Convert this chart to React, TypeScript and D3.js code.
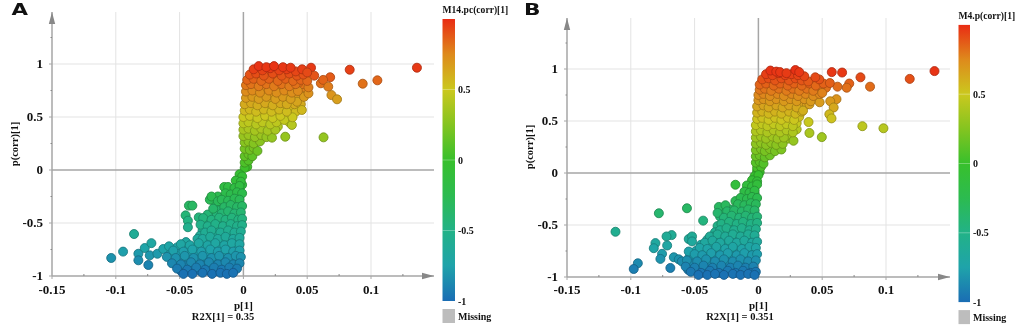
import React from "react";
import * as d3 from "d3";

// ticks shared by both panels
const xTicks = [-0.15, -0.1, -0.05, 0, 0.05, 0.1];
const xMinor = [-0.125, -0.075, -0.025, 0.025, 0.075, 0.125];
const yTicks = [-1, -0.5, 0, 0.5, 1];
const yMinor = [-0.75, -0.25, 0.25, 0.75, 1.25];
const barTicks = [-1, -0.5, 0, 0.5];
const barStops = [-1, -0.75, -0.5, -0.25, 0, 0.25, 0.5, 0.75, 1];
const barColors = ["#1a6db4", "#1fa3aa", "#22b287", "#2cbb50", "#38c02c", "#84c420", "#cbc81e", "#de8a1c", "#e92c14"];

// p[1], p(corr)[1]
const pointsA: number[][] = [
  [.136,.965],[.105,.846],[.0935,.814],[.0833,.946],[.053,.965],[.0555,.89],[.068,.875],[.0607,.818],[.0625,.85],[.0665,.786],[.069,.707],[.0734,.667],[.0628,.308],
  [.003,.03],[.001,.02],[.001,.07],[.004,.09],[.001,.13],[.004,.15],[.007,.13],[.001,.2],[.005,.19],[.008,.21],[.011,.18],[.001,.26],[.004,.27],[.008,.25],[.013,.27],
  [.0,.32],[.004,.33],[.009,.31],[.014,.33],[.018,.31],[.0224,.305],[.0,.38],[.004,.39],[.009,.37],[.014,.39],[.019,.37],[.025,.38],[.0328,.314],
  [.0,.44],[.004,.45],[.01,.43],[.015,.45],[.021,.43],[.026,.45],[.032,.472],[.038,.425],[.0,.5],[.005,.51],[.011,.49],[.017,.51],[.023,.49],[.029,.51],[.0385,.497],
  [.001,.56],[.005,.57],[.01,.55],[.016,.57],[.022,.55],[.028,.57],[.034,.55],[.0458,.566],[.001,.62],[.006,.63],[.011,.61],[.017,.63],[.023,.61],[.029,.63],[.034,.62],[.042,.644],
  [.002,.68],[.007,.69],[.012,.67],[.018,.69],[.025,.67],[.031,.69],[.037,.67],[.0475,.69],[.002,.74],[.007,.75],[.013,.73],[.02,.75],[.026,.73],[.032,.75],[.038,.73],[.0427,.745],[.051,.723],
  [.002,.8],[.006,.81],[.012,.79],[.018,.81],[.024,.79],[.03,.81],[.036,.79],[.041,.81],[.051,.78],[.003,.85],[.008,.86],[.014,.84],[.02,.86],[.027,.84],[.033,.86],[.039,.84],[.045,.85],[.05,.84],
  [.005,.9],[.01,.91],[.016,.89],[.023,.91],[.03,.89],[.036,.91],[.042,.89],[.047,.9],[.008,.95],[.015,.94],[.021,.96],[.028,.94],[.034,.95],[.041,.93],[.046,.95],[.05,.92],
  [.012,.98],[.018,.97],[.024,.98],[.031,.97],[.037,.965],
  [-.1036,-.83],[-.0943,-.77],[-.0857,-.604],[-.0823,-.79],[-.0823,-.852],[-.0773,-.736],[-.0721,-.69],[-.0745,-.896],[-.0734,-.805],[-.0674,-.79],[-.0628,-.745],[-.0583,-.72],
  [-.0427,-.336],[-.04,-.336],[-.0453,-.428],[-.0435,-.478],[-.0435,-.54],[-.035,-.447],[-.0315,-.453],[-.0336,-.516],[-.0263,-.28],[-.025,-.25],[-.015,-.16],[-.02,-.295],[-.0237,-.365],
  [-.003,-.04],[-.001,-.06],[-.006,-.1],[-.002,-.11],[-.012,-.16],[-.007,-.17],[-.003,-.15],[-.014,-.22],[-.01,-.23],[-.005,-.21],[-.001,-.22],[-.017,-.28],[-.012,-.29],[-.007,-.27],[-.003,-.28],
  [-.015,-.35],[-.01,-.33],[-.005,-.35],[-.001,-.34],[-.017,-.41],[-.012,-.39],[-.007,-.41],[-.002,-.4],[-.025,-.47],[-.019,-.45],[-.014,-.47],[-.009,-.45],[-.004,-.47],[-.001,-.46],
  [-.028,-.53],[-.022,-.51],[-.016,-.53],[-.01,-.51],[-.005,-.53],[-.001,-.52],[-.03,-.59],[-.025,-.57],[-.018,-.59],[-.012,-.57],[-.007,-.59],[-.002,-.58],[-.032,-.65],[-.026,-.63],[-.02,-.65],[-.014,-.63],[-.008,-.65],[-.003,-.64],
  [-.049,-.7],[-.042,-.71],[-.035,-.69],[-.028,-.71],[-.022,-.69],[-.015,-.71],[-.009,-.69],[-.003,-.7],[-.055,-.76],[-.047,-.77],[-.04,-.75],[-.033,-.77],[-.026,-.75],[-.02,-.77],[-.014,-.75],[-.008,-.77],[-.003,-.76],
  [-.06,-.82],[-.053,-.83],[-.046,-.81],[-.039,-.83],[-.032,-.81],[-.025,-.83],[-.019,-.81],[-.012,-.83],[-.006,-.81],[-.002,-.82],[-.056,-.88],[-.049,-.89],[-.041,-.87],[-.034,-.89],[-.027,-.87],[-.02,-.89],[-.014,-.87],[-.008,-.89],[-.003,-.88],
  [-.052,-.93],[-.044,-.94],[-.037,-.92],[-.03,-.94],[-.023,-.92],[-.017,-.94],[-.011,-.92],[-.005,-.93],[-.047,-.98],[-.04,-.98],[-.032,-.97],[-.0245,-.98],[-.018,-.97],[-.013,-.98],[-.008,-.97],
];

// smaller points packed between the visible ones in panel A
const packedA: number[][] = [
  [.003,.11],[.003,.23],[.006,.3],[.011,.3],[.016,.36],[.021,.36],[.027,.41],[.003,.42],[.007,.47],[.013,.47],[.019,.47],[.025,.47],[.03,.53],[.036,.45],
  [.003,.53],[.008,.53],[.014,.53],[.02,.53],[.026,.53],[.033,.51],[.004,.6],[.009,.59],[.014,.59],[.02,.59],[.026,.6],[.032,.59],[.038,.58],[.041,.55],
  [.004,.66],[.01,.65],[.015,.65],[.021,.65],[.027,.65],[.034,.66],[.04,.62],[.045,.62],[.005,.72],[.01,.71],[.016,.71],[.022,.71],[.029,.71],[.035,.71],[.041,.7],[.047,.73],
  [.004,.78],[.01,.77],[.015,.77],[.021,.77],[.028,.77],[.034,.77],[.041,.77],[.047,.78],[.046,.81],[.006,.83],[.011,.83],[.017,.83],[.023,.83],[.03,.83],[.036,.83],[.043,.82],[.048,.87],
  [.007,.88],[.013,.87],[.019,.88],[.026,.87],[.033,.88],[.039,.87],[.045,.88],[.012,.93],[.018,.92],[.025,.92],[.031,.92],[.038,.92],[.044,.92],
  [-.001,-.14],[-.009,-.19],[-.005,-.27],[-.01,-.27],[-.015,-.26],[-.02,-.25],[-.022,-.32],[-.017,-.33],[-.008,-.37],[-.013,-.36],[-.019,-.38],[-.024,-.41],[-.021,-.43],[-.028,-.42],
  [-.006,-.44],[-.011,-.43],[-.016,-.43],[-.003,-.5],[-.008,-.49],[-.013,-.49],[-.019,-.49],[-.025,-.51],[-.031,-.5],[-.004,-.56],[-.009,-.55],[-.015,-.55],[-.02,-.55],[-.027,-.55],[-.032,-.57],
  [-.005,-.62],[-.011,-.61],[-.016,-.61],[-.022,-.61],[-.028,-.61],[-.034,-.62],[-.006,-.67],[-.012,-.67],[-.018,-.67],[-.024,-.67],[-.03,-.66],[-.036,-.65],[-.045,-.68],
  [-.006,-.73],[-.012,-.73],[-.018,-.73],[-.024,-.73],[-.031,-.73],[-.038,-.73],[-.045,-.73],[-.052,-.73],[-.005,-.79],[-.011,-.79],[-.017,-.79],[-.023,-.79],[-.03,-.79],[-.036,-.79],[-.043,-.79],[-.05,-.79],[-.058,-.78],
  [-.004,-.85],[-.01,-.85],[-.016,-.85],[-.022,-.85],[-.029,-.85],[-.036,-.85],[-.043,-.85],[-.051,-.85],[-.006,-.9],[-.012,-.9],[-.018,-.9],[-.024,-.9],[-.031,-.9],[-.039,-.9],[-.046,-.9],[-.01,-.95],[-.015,-.95],[-.021,-.95],[-.027,-.95],[-.034,-.95],[-.041,-.95],[-.049,-.95],
];

// p[1], p(corr)[1]
const pointsB: number[][] = [
  [.138,.98],[.1186,.905],[.098,.43],[.0815,.45],[.0875,.83],[.08,.92],[.0656,.966],[.0575,.97],[.0712,.86],[.0692,.82],[.062,.83],[.0612,.71],[.0563,.69],[.059,.63],[.0556,.565],[.0573,.525],[.0393,.49],[.04,.385],[.0497,.345],[.0275,.31],
  [-.001,.02],[.001,.01],[-.001,.05],[.002,.06],[-.002,.1],[.001,.11],[.004,.09],[-.002,.16],[.001,.17],[.005,.15],[.009,.17],[-.002,.22],[.002,.23],[.005,.21],[.009,.23],[.013,.21],[.018,.226],
  [-.002,.28],[.002,.29],[.006,.27],[.01,.29],[.014,.27],[.019,.28],[-.002,.34],[.002,.35],[.006,.33],[.011,.35],[.015,.33],[.02,.34],[-.002,.4],[.002,.41],[.007,.39],[.012,.41],[.017,.39],[.022,.41],[.027,.39],
  [-.002,.46],[.003,.47],[.007,.45],[.012,.47],[.017,.45],[.022,.47],[.027,.45],[-.001,.52],[.003,.53],[.008,.51],[.013,.53],[.018,.51],[.023,.53],[.028,.51],
  [-.001,.58],[.003,.59],[.008,.57],[.013,.59],[.018,.57],[.024,.59],[.029,.57],[.034,.59],[-.001,.64],[.004,.65],[.008,.63],[.014,.65],[.019,.63],[.024,.65],[.03,.63],[.035,.6],[.04,.66],
  [0,.7],[.004,.71],[.009,.69],[.014,.71],[.02,.69],[.025,.71],[.03,.69],[.036,.71],[.041,.69],[.048,.68],[0,.75],[.004,.76],[.009,.74],[.015,.76],[.02,.74],[.026,.76],[.031,.74],[.037,.76],[.043,.74],[.048,.76],
  [.001,.8],[.005,.81],[.01,.79],[.016,.81],[.022,.79],[.027,.81],[.032,.79],[.038,.81],[.043,.79],[.05,.77],[.001,.85],[.006,.86],[.012,.84],[.017,.86],[.023,.84],[.028,.86],[.034,.84],[.04,.86],[.045,.84],[.051,.86],[.056,.865],
  [.003,.9],[.008,.91],[.013,.89],[.018,.91],[.024,.89],[.029,.91],[.034,.89],[.039,.88],[.0477,.9],[.0446,.92],[.006,.95],[.011,.94],[.016,.96],[.021,.94],[.026,.95],[.031,.94],[.036,.93],
  [.0094,.985],[.014,.975],[.017,.97],[.022,.96],[.029,.99],[.032,.97],
  [-.112,-.565],[-.078,-.387],[-.056,-.339],[-.0433,-.458],[-.018,-.113],[-.068,-.597],[-.072,-.61],[-.0807,-.674],[-.082,-.723],[-.0715,-.697],[-.0755,-.777],[-.0768,-.826],[-.0945,-.868],[-.0977,-.923],[-.069,-.913],[-.0663,-.81],[-.0546,-.635],[-.052,-.61],[-.0546,-.755],[-.0624,-.83],[-.06,-.85],[-.052,-.658],
  [-.031,-.326],[-.0258,-.31],[-.032,-.384],[-.0245,-.368],[-.018,-.27],
  [-.003,-.03],[0,-.02],[-.005,-.07],[-.001,-.08],[-.009,-.12],[-.005,-.13],[-.001,-.11],[-.011,-.18],[-.007,-.19],[-.003,-.17],[-.014,-.24],[-.009,-.25],[-.005,-.23],[-.001,-.24],
  [-.016,-.3],[-.011,-.31],[-.006,-.29],[-.002,-.3],[-.019,-.36],[-.013,-.37],[-.008,-.35],[-.003,-.36],[-.027,-.43],[-.021,-.41],[-.015,-.43],[-.01,-.41],[-.005,-.43],[-.001,-.42],
  [-.029,-.49],[-.023,-.47],[-.017,-.49],[-.012,-.47],[-.006,-.49],[-.001,-.48],[-.03,-.55],[-.025,-.53],[-.019,-.55],[-.013,-.53],[-.007,-.55],[-.002,-.54],
  [-.038,-.61],[-.032,-.59],[-.026,-.61],[-.02,-.59],[-.014,-.61],[-.008,-.59],[-.003,-.6],[-.042,-.67],[-.036,-.65],[-.03,-.67],[-.023,-.65],[-.017,-.67],[-.011,-.65],[-.005,-.67],[-.001,-.66],
  [-.046,-.72],[-.04,-.73],[-.033,-.71],[-.026,-.73],[-.02,-.71],[-.013,-.73],[-.007,-.71],[-.002,-.72],[-.05,-.78],[-.044,-.79],[-.037,-.77],[-.03,-.79],[-.024,-.77],[-.017,-.79],[-.011,-.77],[-.005,-.79],[-.001,-.78],
  [-.056,-.84],[-.048,-.85],[-.041,-.83],[-.034,-.85],[-.027,-.83],[-.02,-.85],[-.014,-.83],[-.008,-.85],[-.002,-.84],[-.057,-.9],[-.05,-.91],[-.043,-.89],[-.036,-.91],[-.029,-.89],[-.022,-.91],[-.016,-.89],[-.01,-.91],[-.004,-.9],
  [-.053,-.95],[-.045,-.96],[-.038,-.94],[-.031,-.96],[-.024,-.94],[-.018,-.96],[-.012,-.94],[-.006,-.96],[-.002,-.95],[-.047,-.98],[-.04,-.98],[-.034,-.97],[-.027,-.98],[-.02,-.97],[-.014,-.98],[-.008,-.97],[-.003,-.98],
];

// smaller points packed between the visible ones in panel B
const packedB: number[][] = [
  [.003,.13],[.007,.2],[.004,.26],[.008,.26],[.012,.25],[.016,.25],[.004,.32],[.008,.32],[.013,.31],[.018,.31],[.023,.33],[.005,.38],[.01,.37],[.015,.37],[.02,.37],[.025,.36],
  [.005,.43],[.01,.43],[.015,.43],[.02,.43],[.025,.43],[.03,.42],[.005,.49],[.01,.49],[.015,.49],[.02,.49],[.025,.49],[.03,.48],[.006,.55],[.011,.55],[.016,.55],[.021,.55],[.026,.55],[.032,.54],
  [.006,.61],[.011,.61],[.016,.61],[.022,.61],[.027,.61],[.033,.62],[.006,.67],[.011,.67],[.017,.67],[.022,.67],[.028,.67],[.033,.67],[.038,.66],[.007,.73],[.012,.72],[.018,.72],[.023,.72],[.028,.72],[.034,.73],[.04,.72],[.045,.72],
  [.007,.78],[.013,.77],[.018,.77],[.024,.77],[.029,.77],[.035,.78],[.041,.77],[.046,.78],[.053,.82],[.008,.83],[.014,.82],[.02,.82],[.025,.82],[.03,.83],[.036,.82],[.042,.82],[.048,.82],
  [.01,.88],[.016,.87],[.021,.87],[.026,.87],[.032,.87],[.037,.87],[.043,.88],[.014,.93],[.019,.92],[.024,.92],[.029,.93],[.034,.92],
  [-.003,-.09],[-.003,-.2],[-.007,-.22],[-.011,-.22],[-.012,-.28],[-.008,-.28],[-.004,-.27],[-.016,-.34],[-.01,-.34],[-.006,-.33],[-.022,-.35],[-.027,-.37],[-.016,-.39],[-.011,-.39],[-.006,-.39],[-.024,-.42],[-.03,-.42],
  [-.003,-.45],[-.008,-.45],[-.013,-.45],[-.018,-.45],[-.026,-.46],[-.004,-.51],[-.009,-.51],[-.015,-.51],[-.02,-.51],[-.027,-.51],[-.032,-.51],[-.004,-.57],[-.01,-.57],[-.016,-.57],[-.022,-.57],[-.028,-.57],[-.034,-.57],
  [-.005,-.63],[-.011,-.63],[-.017,-.63],[-.023,-.63],[-.029,-.63],[-.035,-.61],[-.04,-.64],[-.008,-.69],[-.014,-.69],[-.02,-.69],[-.026,-.69],[-.033,-.68],[-.039,-.69],[-.045,-.69],
  [-.004,-.75],[-.01,-.75],[-.016,-.75],[-.023,-.75],[-.03,-.75],[-.036,-.75],[-.043,-.75],[-.049,-.75],[-.003,-.81],[-.008,-.81],[-.014,-.81],[-.021,-.81],[-.027,-.81],[-.034,-.81],[-.041,-.81],[-.048,-.81],[-.054,-.81],
  [-.005,-.87],[-.011,-.87],[-.018,-.87],[-.024,-.87],[-.031,-.87],[-.038,-.87],[-.045,-.87],[-.052,-.87],[-.007,-.93],[-.013,-.93],[-.019,-.93],[-.026,-.93],[-.033,-.93],[-.04,-.93],[-.047,-.93],[-.055,-.93],
];

const serif = "'Liberation Serif', 'Times New Roman', serif";
const colour = d3.scaleLinear<string>().domain(barStops).range(barColors).clamp(true);

type PanelProps = {
  id: string;
  letter: string;
  letterX: number;
  title: string;
  r2x: string;
  r2xX: number;
  points: number[][];
  packed: number[][];
  xRange: [number, number]; // pixel at -0.15 and at 0.1
  yRange: [number, number]; // pixel at -1 and at 1
  axisTop: number;
  axisEnd: number;
  bar: { x: number; w: number; top: number; zero: number; half: number };
  ylabelX: number;
  ylabelY: number;
};

const Panel = ({ id, letter, letterX, title, r2x, r2xX, points, packed, xRange, yRange, axisTop, axisEnd, bar, ylabelX, ylabelY }: PanelProps) => {
  const x = d3.scaleLinear().domain([-0.15, 0.1]).range(xRange);
  const y = d3.scaleLinear().domain([-1, 1]).range(yRange);
  const barY = d3.scaleLinear().domain([0, 0.5]).range([bar.zero, bar.zero - bar.half]);
  const left = x(-0.15);
  const bottom = y(-1);
  const axisGrey = "#a6a6a6";
  const labelProps = { fontFamily: serif, fontWeight: 700, fill: "#111" };
  const dot = (p: number, c: number, key: string) => (
    <circle
      key={key}
      cx={x(p)}
      cy={y(c)}
      r={4.5}
      fill={colour(c)}
      stroke={d3.color(colour(c))!.darker(0.8).formatHex()}
      strokeWidth={1}
      strokeOpacity={0.85}
    />
  );

  return (
    <g>
      <text x={letterX} y={14.5} fontFamily="'DejaVu Sans', sans-serif" fontWeight={700} fontSize={16} fill="#111" textLength={16.5} lengthAdjust="spacingAndGlyphs">{letter}</text>

      {/* grid */}
      {yTicks.filter(t => t !== 0 && t !== -1).map(t => (
        <line key={t} x1={left} x2={axisEnd} y1={y(t)} y2={y(t)} stroke="#e3e3e3" strokeWidth={1} />
      ))}
      {xTicks.filter(t => t !== 0 && t !== -0.15).map(t => (
        <line key={t} x1={x(t)} x2={x(t)} y1={axisTop} y2={bottom} stroke="#e3e3e3" strokeWidth={1} />
      ))}
      <line x1={left} x2={axisEnd} y1={y(0)} y2={y(0)} stroke={axisGrey} strokeWidth={1.5} />
      <line x1={x(0)} x2={x(0)} y1={axisTop} y2={bottom} stroke={axisGrey} strokeWidth={1.5} />

      {/* axes */}
      <line x1={left} x2={left} y1={axisTop} y2={bottom} stroke={axisGrey} strokeWidth={1.5} />
      <line x1={left} x2={axisEnd} y1={bottom} y2={bottom} stroke={axisGrey} strokeWidth={1.5} />
      <path d={`M${left},${axisTop} l-3.2,12 h6.4 z`} fill="#888" />
      <path d={`M${axisEnd},${bottom} l-12,-3.2 v6.4 z`} fill="#888" />
      {yTicks.map(t => (
        <line key={t} x1={left - 3} x2={left} y1={y(t)} y2={y(t)} stroke={axisGrey} />
      ))}
      {yMinor.map(t => (
        <line key={t} x1={left - 1.5} x2={left} y1={y(t)} y2={y(t)} stroke="#888" />
      ))}
      {xTicks.map(t => (
        <line key={t} x1={x(t)} x2={x(t)} y1={bottom} y2={bottom + 3} stroke={axisGrey} />
      ))}
      {xMinor.map(t => (
        <line key={t} x1={x(t)} x2={x(t)} y1={bottom - 2} y2={bottom} stroke="#888" />
      ))}

      {/* tick labels */}
      {xTicks.map(t => (
        <text key={t} x={x(t)} y={294} textAnchor="middle" fontSize={13} {...labelProps}>{t}</text>
      ))}
      {yTicks.map(t => (
        <text key={t} x={left - 9} y={y(t) + 3.5} textAnchor="end" fontSize={13} {...labelProps}>{t}</text>
      ))}

      {/* axis titles */}
      <text x={x(0)} y={309} textAnchor="middle" fontSize={11} {...labelProps}>p[1]</text>
      <text x={r2xX} y={320} textAnchor="middle" fontSize={10.5} {...labelProps}>{r2x}</text>
      <text transform={`translate(${ylabelX},${ylabelY}) rotate(-90)`} textAnchor="middle" fontSize={10.5} {...labelProps}>p(corr)[1]</text>

      {/* points */}
      {packed.map(([p, c], i) => dot(p, c, `f${i}`))}
      {points.map(([p, c], i) => dot(p, c, `p${i}`))}

      {/* colour bar */}
      <defs>
        <linearGradient id={id} x1="0" x2="0" y1="1" y2="0">
          {barStops.map(s => (
            <stop key={s} offset={(s + 1) / 2} stopColor={colour(s)} />
          ))}
        </linearGradient>
      </defs>
      <rect x={bar.x} y={barY(1)} width={bar.w} height={barY(-1) - barY(1)} fill={`url(#${id})`} />
      <text x={bar.x} y={bar.top} fontSize={9.6} {...labelProps}>{title}</text>
      {barTicks.map(t => (
        <g key={t}>
          {t !== -1 && <line x1={bar.x} x2={bar.x + bar.w} y1={barY(t)} y2={barY(t)} stroke="#fff" strokeOpacity={0.3} />}
          <text x={bar.x + bar.w + 3} y={barY(t) + 3.5} fontSize={10} {...labelProps}>{t}</text>
        </g>
      ))}
      <rect x={bar.x} y={barY(-1) + 8} width={bar.w} height={14} fill="#bdbdbd" />
      <text x={bar.x + bar.w + 3} y={barY(-1) + 18.5} fontSize={10} {...labelProps}>Missing</text>
    </g>
  );
};

export default function App() {
  return (
    <svg width={1021} height={330} style={{ position: "absolute", left: 0, top: 0, background: "#fff", filter: "blur(0.3px)" }}>
      <Panel
        id="barA"
        letter="A"
        letterX={11.5}
        title="M14.pc(corr)[1]"
        r2x="R2X[1] = 0.35"
        r2xX={223}
        points={pointsA}
        packed={packedA}
        xRange={[52, 371]}
        yRange={[276, 64]}
        axisTop={12}
        axisEnd={434}
        bar={{ x: 442.5, w: 12.5, top: 13, zero: 160, half: 70.5 }}
        ylabelX={18}
        ylabelY={144}
      />
      <Panel
        id="barB"
        letter="B"
        letterX={524}
        title="M4.p(corr)[1]"
        r2x="R2X[1] = 0.351"
        r2xX={740}
        points={pointsB}
        packed={packedB}
        xRange={[567, 886]}
        yRange={[277, 69]}
        axisTop={18}
        axisEnd={950}
        bar={{ x: 958.5, w: 11.5, top: 19, zero: 163.5, half: 69.3 }}
        ylabelX={533}
        ylabelY={147}
      />
    </svg>
  );
}
